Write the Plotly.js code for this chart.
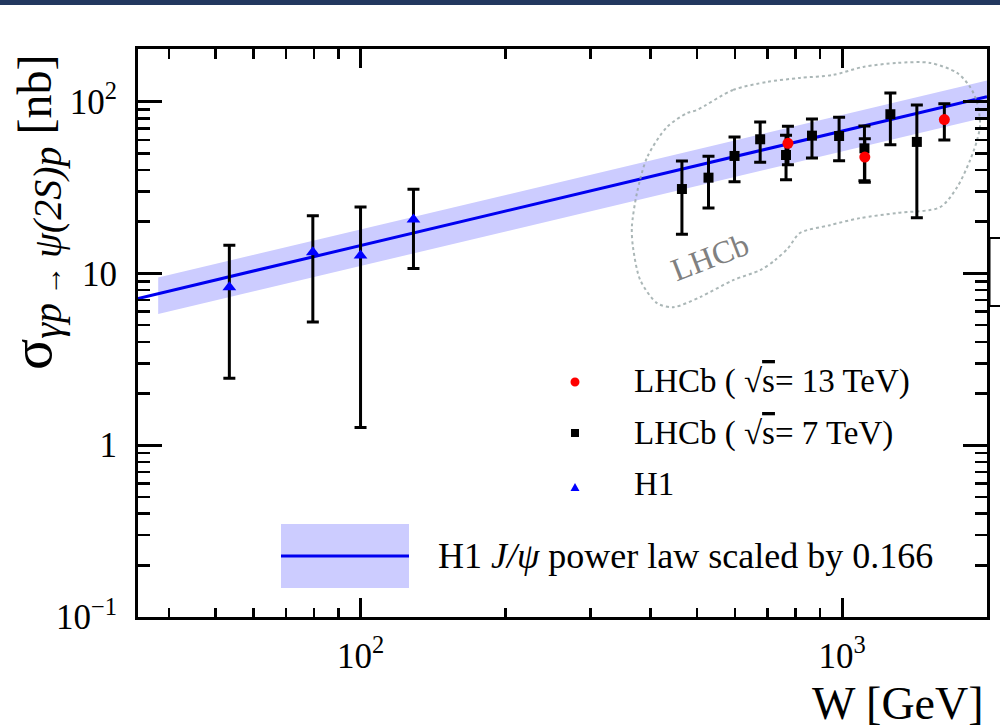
<!DOCTYPE html>
<html><head><meta charset="utf-8">
<script src="https://cdn.plot.ly/plotly-3.0.1.min.js"></script>
<style>html,body{margin:0;padding:0;background:#fff;} #chart{width:1000px;height:728px;}</style>
</head><body><div id="chart"></div>
<script>
// ---------------- data ----------------
const h1W     = [53.4, 79.6, 100, 128.8];
const h1Sigma = [8.3, 13.3, 12.7, 20.6];
const h1Hi    = [14.6, 21.7, 24.4, 30.9];
const h1Lo    = [2.45, 5.22, 1.27, 10.7];

const lhcb7W     = [465, 528, 598, 676, 765, 866, 986, 1113, 1260, 1430];
const lhcb7Sigma = [31.0, 36.1, 48.3, 60.4, 48.9, 63.4, 63.1, 53.5, 84.5, 58.3];
const lhcb7Hi    = [45.1, 48.1, 62.3, 76.1, 63.7, 79.3, 81.1, 72.2, 112.4, 95.7];
const lhcb7Lo    = [16.9, 24.0, 34.2, 44.4, 35.1, 47.0, 45.3, 34.6, 56.2, 21.1];

const lhcb13W     = [772, 1115, 1631];
const lhcb13Sigma = [57.2, 47.6, 78.6];
const lhcb13Hi    = [71.9, 60.9, 97.3];
const lhcb13Lo    = [42.9, 34.0, 59.8];

const powerW     = [34.5, 2000];
const powerSigma = [7.15, 107];
const bandW  = [38, 2000];
const bandHi = [9.46, 132.7];
const bandLo = [5.8, 81.3];

const blobW = [500, 594, 699, 818, 958, 1106, 1301, 1524, 1734, 1845, 1908, 1935, 1908, 1845, 1734, 1598, 1301, 1090, 944, 818, 772, 726, 676, 594, 507, 446, 413, 381, 368, 366, 375, 394, 433, 477, 500];
const blobSigma = [89.5, 117.0, 130.3, 137.5, 143.1, 159.3, 168.1, 168.1, 147.0, 121.8, 98.3, 73.1, 59.8, 45.7, 31.8, 24.3, 22.5, 21.0, 19.1, 17.2, 14.0, 11.95, 10.45, 9.14, 7.28, 6.36, 6.71, 9.14, 14.2, 18.6, 29.4, 47.6, 71.2, 85.9, 89.5];

const yTickVals = [0.1, 1, 10, 100];
const yTickText = ['10<sup>\u22121</sup>', '1', '10', '10<sup>2</sup>'];
const xTickVals = [100, 1000];
const xTickText = ['10<sup>2</sup>', '10<sup>3</sup>'];
const yMinorVals = [0.2,0.3,0.4,0.5,0.6,0.7,0.8,0.9,2,3,4,5,6,7,8,9,20,30,40,50,60,70,80,90,200];
const xMinorVals = [40,50,60,70,80,90,200,300,400,500,600,700,800,900,2000];

const legendLabels = ['LHCb ( \u221A<span style="text-decoration:overline">s</span>= 13 TeV)',
                      'LHCb ( \u221A<span style="text-decoration:overline">s</span>= 7 TeV)',
                      'H1'];
const bandLabel = 'H1 <i>J/\u03C8</i> power law scaled by 0.166';
const yTitle = '<span style="font-size:58px">\u03C3</span><sub><span style="font-size:40px"><i>\u03B3p</i></span>' +
               '<span style="font-size:30px"> \u2192 </span><span style="font-size:40px"><i>\u03C8(2S)p</i></span></sub> [nb]';

// ---------------- layout helpers ----------------
const M = {l:138, r:13, t:49, b:111};
const PW = 1000 - M.l - M.r, PH = 728 - M.t - M.b;
const px = x => (x - M.l) / PW;
const py = y => (M.t + PH - y) / PH;
const FONT = 'Liberation Serif, Times New Roman, serif';

function errs(v, hi, lo){
  return {type:'data', symmetric:false,
    array: v.map((s,i)=>hi[i]-s), arrayminus: v.map((s,i)=>s-lo[i]),
    color:'black', thickness:3, width:6};
}

const traces = [
  {x:[bandW[0], bandW[1], bandW[1], bandW[0]], y:[bandLo[0], bandLo[1], bandHi[1], bandHi[0]],
   type:'scatter', mode:'lines', fill:'toself', fillcolor:'#ccccff', line:{width:0}, hoverinfo:'skip'},
  {x:powerW, y:powerSigma, type:'scatter', mode:'lines', line:{color:'#0000f0', width:3}},
  {x:blobW, y:blobSigma, type:'scatter', mode:'lines',
   line:{color:'rgba(150,165,165,0.8)', width:2, dash:'dot', shape:'spline', smoothing:0.8}},
  {x:lhcb7W, y:lhcb7Sigma, type:'scatter', mode:'markers', error_y:errs(lhcb7Sigma,lhcb7Hi,lhcb7Lo),
   marker:{symbol:'square', size:10, color:'black'}},
  {x:lhcb13W, y:lhcb13Sigma, type:'scatter', mode:'markers', error_y:errs(lhcb13Sigma,lhcb13Hi,lhcb13Lo),
   marker:{symbol:'circle', size:11, color:'#ff0000'}},
  {x:h1W, y:h1Sigma, type:'scatter', mode:'markers', error_y:errs(h1Sigma,h1Hi,h1Lo),
   marker:{symbol:'triangle-up', size:12, color:'#0000ff'}}
];

const shapes = [
  // top dark bar
  {type:'rect', xref:'paper', yref:'paper', x0:px(0), x1:px(1000), y0:py(5), y1:py(0), fillcolor:'#22385f', line:{width:0}},
  // partial frame at right edge
  {type:'path', xref:'paper', yref:'paper', path:`M${px(1001)},${py(238)} L${px(989.5)},${py(238)} L${px(989.5)},${py(306)} L${px(1001)},${py(306)}`, line:{color:'black', width:2}},
  // legend markers
  {type:'circle', xref:'paper', yref:'paper', x0:px(570.5), x1:px(579.5), y0:py(386.5), y1:py(377.5), fillcolor:'#ff0000', line:{width:0}},
  {type:'rect', xref:'paper', yref:'paper', x0:px(571), x1:px(579), y0:py(437), y1:py(429), fillcolor:'black', line:{width:0}},
  {type:'path', xref:'paper', yref:'paper', path:`M${px(570.5)},${py(491)} L${px(579.5)},${py(491)} L${px(575)},${py(483)} Z`, fillcolor:'#0000ff', line:{width:0}},
  // band legend
  {type:'rect', xref:'paper', yref:'paper', x0:px(281), x1:px(409), y0:py(588), y1:py(524), fillcolor:'#ccccff', line:{width:0}},
  {type:'line', xref:'paper', yref:'paper', x0:px(281), x1:px(409), y0:py(556), y1:py(556), line:{color:'#0000f0', width:3}}
];

const annotations = [
  {xref:'paper', yref:'paper', x:px(35), y:py(213), xanchor:'center', yanchor:'middle', textangle:-90, showarrow:false,
   text:yTitle, font:{family:FONT, size:48, color:'black'}},
  {xref:'paper', yref:'paper', x:px(986), y:py(703), xanchor:'right', yanchor:'middle', showarrow:false,
   text:'W [GeV]', font:{family:FONT, size:46, color:'black'}},
  {xref:'paper', yref:'paper', x:px(710), y:py(257), xanchor:'center', yanchor:'middle', textangle:-21, showarrow:false,
   text:'LHCb', font:{family:FONT, size:32, color:'#808080'}},
  {xref:'paper', yref:'paper', x:px(632), y:py(382), xanchor:'left', yanchor:'middle', showarrow:false,
   text:legendLabels[0], font:{family:FONT, size:33, color:'black'}},
  {xref:'paper', yref:'paper', x:px(632), y:py(433), xanchor:'left', yanchor:'middle', showarrow:false,
   text:legendLabels[1], font:{family:FONT, size:33, color:'black'}},
  {xref:'paper', yref:'paper', x:px(632), y:py(484), xanchor:'left', yanchor:'middle', showarrow:false,
   text:legendLabels[2], font:{family:FONT, size:33, color:'black'}},
  {xref:'paper', yref:'paper', x:px(436), y:py(556), xanchor:'left', yanchor:'middle', showarrow:false,
   text:bandLabel, font:{family:FONT, size:36, color:'black'}}
];

const layout = {
  width:1000, height:728, margin:M, paper_bgcolor:'white', plot_bgcolor:'white', showlegend:false,
  font:{family:FONT, color:'black'},
  xaxis:{type:'log', range:[Math.log10(34.5), Math.log10(2000)], showgrid:false, zeroline:false,
    showline:true, linecolor:'black', linewidth:3, mirror:'ticks',
    ticks:'inside', ticklen:19, tickwidth:3, tickcolor:'black',
    tickmode:'array', tickvals:xTickVals, ticktext:xTickText, ticklabelstandoff:6,
    tickfont:{family:FONT, size:35, color:'black'},
    minor:{ticks:'inside', ticklen:9.5, tickwidth:2.5, tickcolor:'black', tickmode:'array', tickvals:xMinorVals, showgrid:false}},
  yaxis:{type:'log', range:[-1, 2.3065], showgrid:false, zeroline:false,
    showline:true, linecolor:'black', linewidth:3, mirror:'ticks',
    ticks:'inside', ticklen:24, tickwidth:3, tickcolor:'black',
    tickmode:'array', tickvals:yTickVals, ticktext:yTickText, ticklabelstandoff:11,
    tickfont:{family:FONT, size:35, color:'black'},
    minor:{ticks:'inside', ticklen:12, tickwidth:2.5, tickcolor:'black', tickmode:'array', tickvals:yMinorVals, showgrid:false}},
  shapes:shapes, annotations:annotations
};

Plotly.newPlot('chart', traces, layout, {displayModeBar:false, staticPlot:true});
</script></body></html>
